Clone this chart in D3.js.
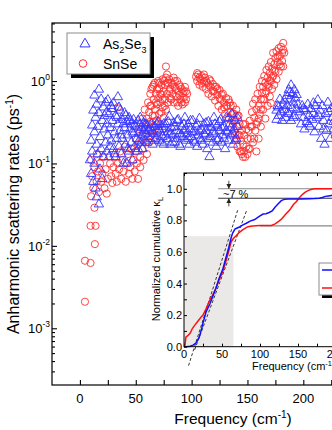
<!DOCTYPE html>
<html>
<head>
<meta charset="utf-8">
<script src="https://cdn.jsdelivr.net/npm/d3@7"></script>
<style>
  body { margin: 0; background: #fff; }
  svg { display: block; font-family: "Liberation Sans", Arial, sans-serif; }
</style>
</head>
<body>
<div id="chart"></div>
<script>
//Colores
const COLOR_BLUE = '#3434ff',
COLOR_RED = '#ff3030',
COLOR_LINE_BLUE = '#1010ff',
COLOR_LINE_RED = '#ff1010',
COLOR_SHADE = '#ebe9e7',
COLOR_BOX = '#8c8c8c';

//Datos: [frecuencia (cm-1), tasa (ps-1)]
const as2se3Rates = [
  [9,0.11],[10,0.075],[10,0.19],[11,0.29],[11,0.14],[12,0.44],[12,0.06],[13,0.67],[13,0.1],[13,0.24],[14,0.05],[14,0.36],[15,0.039],[15,0.17],[15,0.52],[16,0.13],[16,0.28],[17,0.79],[17,0.032],[17,0.41],[18,0.085],[18,0.21],[19,0.6],[19,0.15],[20,0.33],[20,0.065],[21,0.48],[21,0.12],[22,0.26],[22,0.38],
  [23,0.55],[23,0.18],[24,0.3],[24,0.14],[25,0.59],[25,0.22],[26,0.4],[26,0.12],[27,0.27],[28,0.5],[28,0.19],[29,0.33],[30,0.15],[30,0.54],[31,0.24],[32,0.38],[32,0.12],[33,0.2],[34,0.64],[34,0.3],[35,0.16],[36,0.44],[36,0.25],[37,0.13],[38,0.34],[38,0.2],[39,0.1],[40,0.41],[40,0.27],[41,0.17],[42,0.1],[42,0.32],[43,0.22],[44,0.36],[44,0.14],[45,0.26],[46,0.18],[46,0.3],[47,0.11],[48,0.34],[48,0.23],[49,0.16],[50,0.28],[51,0.2],[52,0.33],[52,0.15],[53,0.24],[54,0.3],[55,0.18],[55,0.27],[56,0.22],[57,0.31],[58,0.19],[58,0.26],[59,0.23],[60,0.29],[60,0.18],
  [24,0.42],[27,0.16],[29,0.46],[31,0.13],[33,0.36],[35,0.48],[37,0.22],[39,0.3],[41,0.38],[43,0.15],[45,0.33],[47,0.24],[49,0.29],[51,0.14],[53,0.19],[54,0.36],[56,0.15],[57,0.25],[59,0.3],
  [62,0.25],[63,0.2],[64,0.3],[65,0.17],[66,0.23],[67,0.28],[68,0.2],[69,0.25],[70,0.32],[71,0.19],[72,0.24],[73,0.28],[74,0.21],[75,0.17],[76,0.26],[77,0.3],[78,0.2],[79,0.24],[80,0.37],[81,0.17],[82,0.27],[83,0.22],[84,0.31],[85,0.18],[86,0.25],[87,0.2],[88,0.34],[89,0.23],[90,0.16],[91,0.28],[92,0.21],[93,0.25],[94,0.36],[95,0.19],[96,0.23],[97,0.3],[98,0.17],[99,0.26],[100,0.21],
  [61,0.21],[63,0.27],[65,0.24],[67,0.19],[69,0.3],[71,0.26],[73,0.18],[75,0.3],[77,0.22],[79,0.32],[81,0.23],[83,0.18],[85,0.28],[87,0.33],[89,0.17],[91,0.22],[93,0.3],[95,0.26],[97,0.2],[99,0.33],
  [101,0.33],[102,0.19],[103,0.24],[104,0.28],[105,0.16],[106,0.22],[107,0.35],[108,0.2],[109,0.26],[110,0.17],[111,0.3],[112,0.22],[113,0.25],[114,0.15],[115,0.32],[116,0.12],[117,0.21],[118,0.27],[119,0.18],[120,0.36],[121,0.23],[122,0.16],[123,0.29],[124,0.2],[125,0.25],[126,0.34],[127,0.18],[128,0.22],[129,0.28],[130,0.15],[131,0.36],[132,0.24],[133,0.19],[134,0.3],[135,0.22],[136,0.4],[137,0.17],[138,0.26],[139,0.33],[140,0.2],[141,0.28],
  [101,0.24],[103,0.18],[105,0.3],[107,0.25],[109,0.19],[111,0.23],[113,0.31],[115,0.2],[117,0.28],[119,0.24],[121,0.3],[123,0.19],[125,0.32],[127,0.27],[129,0.2],[131,0.25],[133,0.35],[135,0.27],[137,0.23],[139,0.19],[141,0.36],
  [176,0.44],[176,0.34],[177,0.5],[178,0.38],[179,0.6],[180,0.42],[181,0.33],[182,0.52],[183,0.45],[184,0.36],[185,0.66],[186,0.5],[187,0.78],[187,0.4],[188,0.6],[189,0.89],[189,0.33],[190,0.7],[190,0.47],[191,0.55],[192,0.78],[192,0.38],[193,0.62],[194,0.45],[195,0.52],
  [178,0.48],[183,0.58],[186,0.42],[188,0.72],[191,0.36],[194,0.68],
  [197,0.42],[198,0.3],[199,0.5],[200,0.36],[201,0.26],[202,0.44],[203,0.32],[204,0.52],[205,0.38],[206,0.28],[207,0.46],[208,0.34],[209,0.4],[210,0.24],[211,0.5],[212,0.36],[213,0.59],[214,0.28],[215,0.44],[216,0.2],[217,0.5],[218,0.33],[219,0.17],[220,0.4],[221,0.25],[222,0.55],[223,0.3],[224,0.2],[225,0.46],[226,0.36],[227,0.26],[228,0.5],[229,0.22],[230,0.4],
  [200,0.46],[205,0.3],[209,0.54],[214,0.38],[218,0.26],[223,0.42],[227,0.32]
];

const snseRates = [
  [4.5,0.0021],[4.5,0.0066],[9.5,0.0062],[13.4,0.0105],[9.5,0.0175],[14,0.0175],
  [13,0.029],[10,0.04],[12,0.05],[11,0.07],[10,0.11],[13,0.09],[15,0.06],[16,0.08],[17,0.045],[18,0.1],[19,0.06],[20,0.075],[21,0.12],[22,0.05],[23,0.085],[24,0.043],[25,0.065],[15,0.13],
  [27,0.1],[28,0.07],[29,0.058],[30,0.09],[31,0.12],[32,0.075],[33,0.06],[34,0.48],[34,0.1],[35,0.085],[36,0.14],[37,0.065],[38,0.11],[39,0.08],[40,0.16],[41,0.06],[42,0.1],[43,0.13],[44,0.075],[45,0.09],[46,0.15],[47,0.065],[48,0.11],
  [49,0.08],[50,0.14],[50,0.2],[51,0.1],[52,0.17],[52,0.065],[53,0.26],[54,0.12],[54,0.09],[55,0.2],[56,0.35],[56,0.15],[57,0.11],[58,0.28],[58,0.45],[59,0.18],[60,0.13],[60,0.35],
  [61,0.55],[61,0.25],[62,0.42],[62,0.18],[63,0.7],[63,0.32],[64,0.5],[64,0.22],[65,0.85],[65,0.38],[66,0.6],[66,0.28],[67,0.45],[67,0.95],[68,0.7],[68,0.33],[69,0.52],[69,0.22],[70,1.0],[70,0.62],[71,0.4],[71,0.8],[72,0.55],[72,0.3],[73,0.9],[73,0.68],[74,0.48],[74,1.05],[75,0.75],[75,0.36],[76,0.6],[76,0.9],[77,1.5],[77,1.1],[77,0.45],
  [62,0.3],[63,0.5],[64,0.8],[65,0.25],[66,0.9],[67,0.38],[68,0.55],[69,0.8],[70,0.3],[71,0.95],[72,0.7],[73,0.42],[74,0.6],[75,1.0],[76,0.5],
  [78,0.7],[79,0.95],[79,0.55],[80,1.05],[81,0.8],[81,0.62],[82,0.95],[83,0.7],[84,1.1],[84,0.55],[85,0.85],[86,0.65],[87,1.0],[88,0.75],[88,0.5],[89,0.9],[90,0.6],[91,0.8],[92,0.71],[92,0.52],[93,0.63],[94,0.85],[95,0.6],[96,0.7],
  [78,0.95],[78,1.2],[80,0.75],[82,0.6],[83,0.9],[85,1.0],[86,0.8],[87,0.55],[89,0.68],[90,0.85],[91,0.55],[93,0.75],[94,0.55],[95,0.75],
  [104,1.13],[105,1.0],[106,1.2],[107,0.9],[108,1.05],[109,1.15],[110,0.85],[111,0.98],[112,1.1],[113,0.8],[114,0.95],[115,0.7],[116,1.05],[117,0.85],[118,0.65],[119,0.92],[120,0.75],[121,0.58],[122,0.85],[123,0.68],[124,0.5],[125,0.78],[126,0.6],[127,0.45],[128,0.7],[129,0.55],[130,0.4],[131,0.62],[132,0.5],[133,0.36],[134,0.55],[135,0.42],[136,0.33],[137,0.5],
  [105,1.25],[107,1.1],[109,0.95],[111,1.2],[113,1.0],[115,0.9],[117,1.0],[119,0.75],[121,0.85],[123,0.8],[125,0.62],[127,0.68],[129,0.48],[131,0.5],[133,0.6],[135,0.5],[137,0.4],
  [137,0.3],[138,0.4],[138,0.25],[139,0.34],[140,0.2],[140,0.45],[141,0.28],[141,0.16],[142,0.22],[142,0.38],[143,0.14],[143,0.3],[144,0.19],[145,0.25],[145,0.13],[146,0.12],[146,0.17],[147,0.22],[147,0.14],[148,0.12],[148,0.3],[149,0.16],[150,0.2],[150,0.13],[151,0.25],[152,0.15],[152,0.33],[153,0.2],
  [139,0.22],[141,0.38],[143,0.22],[144,0.14],[146,0.3],[149,0.26],[151,0.15],[153,0.28],
  [154,0.28],[154,0.42],[155,0.18],[155,0.53],[156,0.36],[157,0.25],[157,0.6],[158,0.45],[158,0.14],[159,0.32],[159,0.7],[160,0.5],[160,0.2],[161,0.85],[161,0.4],[162,0.6],[162,0.28],[163,1.0],[163,0.72],[164,0.45],[164,0.85],[165,1.15],[165,0.6],[166,0.35],[166,0.95],[167,1.36],[167,0.75],[168,1.1],[168,0.5],[169,1.5],[169,0.85],[170,1.25],[170,0.65],[171,1.7],[171,1.0],[171,0.54],[172,1.4],[172,0.8],[173,2.2],[173,1.15],[174,1.6],[174,0.9],[175,1.9],[175,1.3],[176,2.3],[176,1.05],[177,1.7],[178,2.5],[178,1.3],[179,2.0],[180,2.6],[180,1.5],[181,2.2],[181,1.75],[182,2.9],[182,1.5],[182,2.4],
  [156,0.2],[158,0.3],[160,0.35],[162,0.45],[164,0.6],[166,0.7],[168,0.9],[170,1.0],[172,1.1],[174,1.35],[177,2.0],[179,1.6],[183,2.2]
];

//Inset: [frecuencia, kappa acumulada normalizada]
const kappaAs2se3 = [
  [0,0],[3,0],[8,0.003],[12,0.01],[16,0.025],[20,0.06],[23,0.11],[25,0.15],[29,0.22],[34,0.27],[38,0.32],[42,0.37],[46,0.43],[51,0.49],[55,0.56],[59,0.63],[62,0.69],[64,0.72],[67,0.745],[70,0.752],[73,0.758],[77,0.77],[82,0.782],[87,0.795],[93,0.805],[99,0.825],[104,0.84],[108,0.842],[112,0.85],[116,0.86],[120,0.885],[124,0.905],[128,0.925],[132,0.933],[137,0.936],[145,0.936],[155,0.936],[165,0.937],[172,0.938],[178,0.94],[182,0.945],[186,0.952],[190,0.955],[194,0.958],[200,0.962],[210,0.975],[220,0.985],[235,0.995],[250,1.0],[280,1.0]
];
const kappaSnse = [
  [0,0],[1,0],[2.5,0.06],[5,0.07],[8,0.085],[11,0.115],[14,0.135],[18,0.16],[22,0.185],[25,0.2],[29,0.24],[33,0.285],[37,0.32],[42,0.37],[46,0.42],[51,0.476],[55,0.54],[58,0.59],[62,0.665],[65,0.685],[68,0.7],[72,0.72],[77,0.74],[84,0.76],[90,0.765],[100,0.767],[108,0.767],[115,0.768],[120,0.778],[125,0.795],[129,0.812],[134,0.84],[139,0.865],[144,0.9],[148,0.92],[152,0.945],[156,0.965],[160,0.98],[164,0.99],[168,0.997],[172,1.0],[200,1.0],[280,1.0]
];
const tangentLines = [
  [[6,-0.12],[71,0.87]],
  [[14,-0.02],[83,0.87]]
];
const refLevels = [[45,1.0],[45,0.94],[100,0.765]];
const shadeBox = [65, 0.7];
const gapArrowFreq = 59;

//Ticks
const xTicksMain = [0,25,50,75,100,125,150,175,200,225,250,275,300];
const xLabelsMain = [0,50,100,150,200];
const yMajorTicks = [1e-3,1e-2,1e-1,1];
const yMajorExp = ['-3','-2','-1','0'];
const xTicksInset = [0,25,50,75,100,125,150,175,200,225,250,275];
const xLabelsInset = [0,50,100,150,200];
const yTicksInset = [0,0.1,0.2,0.3,0.4,0.5,0.6,0.7,0.8,0.9,1.0,1.1];

const W = 332, H = 430;
const svg = d3.select('#chart').append('svg').attr('width', W).attr('height', H);

const defs = svg.append('defs');
defs.append('clipPath').attr('id', 'clipMain')
  .append('rect').attr('x', 52).attr('y', 23).attr('width', 363).attr('height', 362);
defs.append('marker').attr('id', 'arrow')
  .attr('markerUnits', 'userSpaceOnUse')
  .attr('markerWidth', 5).attr('markerHeight', 5)
  .attr('refX', 5).attr('refY', 2.5).attr('orient', 'auto')
  .append('path').attr('d', 'M0,0L5,2.5L0,5Z').attr('fill', '#222');

//Escalas principales
const x = d3.scaleLinear().domain([-25, 300]).range([52, 415]);
const y = d3.scaleLog().domain([2.05e-4, 5.06]).range([385, 23]);

//Marco
svg.append('rect').attr('x', 52).attr('y', 23).attr('width', 363).attr('height', 362)
  .attr('fill', 'none').attr('stroke', '#000').attr('stroke-width', 1.2);

//Eje X
svg.append('g').attr('transform', 'translate(0,385)')
  .call(d3.axisBottom(x).tickValues(xTicksMain).tickSize(-5).tickFormat(''));
svg.append('g').attr('transform', 'translate(0,23)')
  .call(d3.axisTop(x).tickValues(xTicksMain).tickSize(-5).tickFormat(''));
svg.append('g').selectAll('text').data(xLabelsMain).enter().append('text')
  .attr('x', d => x(d)).attr('y', 403)
  .attr('text-anchor', 'middle').attr('font-size', 13).text(d => d);

//Eje Y (log)
const minorTicks = y.ticks().filter(d => yMajorTicks.indexOf(d) < 0);
svg.append('g').attr('transform', 'translate(52,0)')
  .call(d3.axisLeft(y).tickValues(minorTicks).tickSize(-3).tickFormat(''));
svg.append('g').attr('transform', 'translate(52,0)')
  .call(d3.axisLeft(y).tickValues(yMajorTicks).tickSize(-5).tickFormat(''));

svg.selectAll('.domain').remove();
svg.selectAll('.tick line').attr('stroke', '#000').attr('stroke-width', 1.1);

const yLab = svg.append('g').selectAll('text').data(yMajorTicks).enter().append('text')
  .attr('x', 50).attr('y', d => y(d) + 5)
  .attr('text-anchor', 'end').attr('font-size', 13);
yLab.append('tspan').text('10');
yLab.append('tspan').attr('dy', -6).attr('font-size', 8.5).text((d, i) => yMajorExp[i]);

//Títulos
const yTitle = svg.append('text')
  .attr('transform', 'translate(19,214) rotate(-90)')
  .attr('text-anchor', 'middle').attr('font-size', 16);
yTitle.append('tspan').text('Anharmonic scattering rates (ps');
yTitle.append('tspan').attr('dy', -6).attr('font-size', 10).text('-1');
yTitle.append('tspan').attr('dy', 6).text(')');

const xTitle = svg.append('text').attr('x', 233).attr('y', 424)
  .attr('text-anchor', 'middle').attr('font-size', 15.5);
xTitle.append('tspan').text('Frequency (cm');
xTitle.append('tspan').attr('dy', -6).attr('font-size', 10).text('-1');
xTitle.append('tspan').attr('dy', 6).text(')');

//Puntos
const plot = svg.append('g').attr('clip-path', 'url(#clipMain)');
const tri = d3.symbol().type(d3.symbolTriangle).size(38);

plot.selectAll('circle.snse').data(snseRates).enter().append('circle')
  .attr('class', 'snse')
  .attr('cx', d => x(d[0])).attr('cy', d => y(d[1])).attr('r', 3.6)
  .attr('fill', 'none').attr('stroke', COLOR_RED).attr('stroke-width', 0.9);

plot.selectAll('path.as2se3').data(as2se3Rates).enter().append('path')
  .attr('class', 'as2se3')
  .attr('d', tri)
  .attr('transform', d => 'translate(' + x(d[0]) + ',' + y(d[1]) + ')')
  .attr('fill', 'none').attr('stroke', COLOR_BLUE).attr('stroke-width', 0.9);

//Leyenda
const leg = svg.append('g');
leg.append('rect').attr('x', 71).attr('y', 37).attr('width', 83).attr('height', 41).attr('fill', '#000');
leg.append('rect').attr('x', 67).attr('y', 33).attr('width', 83).attr('height', 41)
  .attr('fill', '#fff').attr('stroke', COLOR_BOX).attr('stroke-width', 1);
leg.append('path').attr('d', d3.symbol().type(d3.symbolTriangle).size(44))
  .attr('transform', 'translate(85,44)')
  .attr('fill', 'none').attr('stroke', COLOR_BLUE).attr('stroke-width', 1);
leg.append('circle').attr('cx', 83).attr('cy', 63.5).attr('r', 3.8)
  .attr('fill', 'none').attr('stroke', COLOR_RED).attr('stroke-width', 1);
const t1 = leg.append('text').attr('x', 103).attr('y', 49).attr('font-size', 14);
t1.append('tspan').text('As');
t1.append('tspan').attr('dy', 4).attr('font-size', 9).text('2');
t1.append('tspan').attr('dy', -4).text('Se');
t1.append('tspan').attr('dy', 4).attr('font-size', 9).text('3');
leg.append('text').attr('x', 103).attr('y', 69).attr('font-size', 14).text('SnSe');

/////
// Inset
/////
const ix = d3.scaleLinear().domain([0, 280]).range([184, 396.8]);
const iy = d3.scaleLinear().domain([0, 1.1]).range([346.7, 173]);
const inset = svg.append('g');

inset.append('rect').attr('x', 184).attr('y', 173).attr('width', 212.8).attr('height', 173.7)
  .attr('fill', '#fff');

inset.append('rect')
  .attr('x', ix(0)).attr('y', iy(shadeBox[1]))
  .attr('width', ix(shadeBox[0]) - ix(0)).attr('height', iy(0) - iy(shadeBox[1]))
  .attr('fill', COLOR_SHADE);

inset.append('g').attr('transform', 'translate(0,346.7)')
  .call(d3.axisBottom(ix).tickValues(xTicksInset).tickSize(-3).tickFormat(''));
inset.append('g').attr('transform', 'translate(0,173)')
  .call(d3.axisTop(ix).tickValues(xTicksInset).tickSize(-3).tickFormat(''));
inset.append('g').attr('transform', 'translate(184,0)')
  .call(d3.axisLeft(iy).tickValues(yTicksInset).tickSize(-3).tickPadding(2)
    .tickFormat(d => Math.round(d * 10) % 2 === 0 && d < 1.05 ? d3.format('.1f')(d) : ''));
inset.selectAll('.domain').remove();
inset.selectAll('.tick line').attr('stroke', '#000').attr('stroke-width', 1);
inset.selectAll('.tick text').attr('font-size', 11).attr('fill', '#000')
  .attr('font-family', '"Liberation Sans", Arial, sans-serif');
inset.append('g').selectAll('text').data(xLabelsInset).enter().append('text')
  .attr('x', d => ix(d)).attr('y', 357.5)
  .attr('text-anchor', 'middle').attr('font-size', 11).text(d => d);

//Líneas de referencia
inset.selectAll('line.ref').data(refLevels).enter().append('line')
  .attr('class', 'ref')
  .attr('x1', d => ix(d[0])).attr('x2', ix(280))
  .attr('y1', d => iy(d[1])).attr('y2', d => iy(d[1]))
  .attr('stroke', (d, i) => i === 1 ? '#333' : '#888').attr('stroke-width', 1.1);

//Tangentes
inset.selectAll('line.tan').data(tangentLines).enter().append('line')
  .attr('class', 'tan')
  .attr('x1', d => ix(d[0][0])).attr('y1', d => iy(d[0][1]))
  .attr('x2', d => ix(d[1][0])).attr('y2', d => iy(d[1][1]))
  .attr('stroke', '#222').attr('stroke-width', 0.9).attr('stroke-dasharray', '3,2');

//Curvas
const kLine = d3.line().x(d => ix(d[0])).y(d => iy(d[1]));
inset.append('path').datum(kappaSnse).attr('d', kLine)
  .attr('fill', 'none').attr('stroke', COLOR_LINE_RED).attr('stroke-width', 1.5);
inset.append('path').datum(kappaAs2se3).attr('d', kLine)
  .attr('fill', 'none').attr('stroke', COLOR_LINE_BLUE).attr('stroke-width', 1.5);

//Flechas ~7 %
inset.append('line')
  .attr('x1', ix(gapArrowFreq)).attr('x2', ix(gapArrowFreq))
  .attr('y1', iy(1.0) - 8).attr('y2', iy(1.0))
  .attr('stroke', '#222').attr('stroke-width', 0.8).attr('marker-end', 'url(#arrow)');
inset.append('line')
  .attr('x1', ix(gapArrowFreq)).attr('x2', ix(gapArrowFreq))
  .attr('y1', iy(0.94) + 8).attr('y2', iy(0.94))
  .attr('stroke', '#222').attr('stroke-width', 0.8).attr('marker-end', 'url(#arrow)');
inset.append('text').attr('x', 223).attr('y', 198).attr('font-size', 11).text('~7 %');

//Marco inset
inset.append('rect').attr('x', 184).attr('y', 173).attr('width', 212.8).attr('height', 173.7)
  .attr('fill', 'none').attr('stroke', '#000').attr('stroke-width', 1);

//Títulos inset
const iyTitle = inset.append('text')
  .attr('transform', 'translate(159.5,259) rotate(-90)')
  .attr('text-anchor', 'middle').attr('font-size', 11);
iyTitle.append('tspan').text('Normalized cumulative κ');
iyTitle.append('tspan').attr('dy', 3).attr('font-size', 8).text('L');

const ixTitle = inset.append('text').attr('x', 252).attr('y', 369.5).attr('font-size', 11);
ixTitle.append('tspan').text('Frequency (cm');
ixTitle.append('tspan').attr('dy', -4).attr('font-size', 7.5).text('-1');
ixTitle.append('tspan').attr('dy', 4).text(')');

//Leyenda inset
inset.append('rect').attr('x', 322).attr('y', 266).attr('width', 70).attr('height', 32).attr('fill', '#000');
inset.append('rect').attr('x', 319).attr('y', 263).attr('width', 70).attr('height', 32)
  .attr('fill', '#fff').attr('stroke', COLOR_BOX).attr('stroke-width', 1);
inset.append('line').attr('x1', 322).attr('x2', 345).attr('y1', 270).attr('y2', 270)
  .attr('stroke', COLOR_LINE_BLUE).attr('stroke-width', 1.5);
inset.append('line').attr('x1', 322).attr('x2', 345).attr('y1', 288).attr('y2', 288)
  .attr('stroke', COLOR_LINE_RED).attr('stroke-width', 1.5);
</script>
</body>
</html>
